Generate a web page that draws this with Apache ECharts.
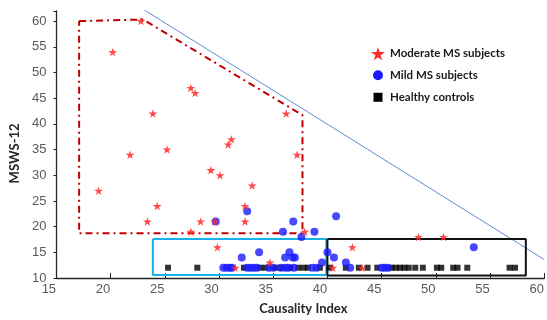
<!DOCTYPE html>
<html><head><meta charset="utf-8">
<script src="https://cdn.jsdelivr.net/npm/echarts@6/dist/echarts.min.js"></script>
<style>html,body{margin:0;padding:0;background:#fff}#c{width:547px;height:320px}</style>
</head><body><div id="c"></div>
<script>
// ---- data ----
const seriesNames = ['Moderate MS subjects', 'Mild MS subjects', 'Healthy controls'];
const moderateX = [22.8,20.2,27.4,27.8,23.9,36.2,25.2,21.8,31.15,30.85,37.2,29.25,30.1,18.9,33.06,24.3,32.4,23.4,28.3,29.6,32.4,27.4,37.9,29.85,42.3,48.4,50.7,34.7,31.5,40.5,43.2];
const moderateY = [60,54,47,46,42,42,35,34,37,36,34,31,30,27,28,24,24,21,21,21,21,19,19,16,16,18,18,13,12,12,12];
const mildX = [32.6,29.7,36.85,35.9,38.8,37.6,40.8,32.1,33.7,36.5,36.1,36.8,37.0,39.5,40.0,40.6,41.7,53.5,
  30.4,30.7,31.0,31.2,32.6,32.9,33.2,33.5,34.6,35.0,35.7,36.1,36.4,36.9,38.6,39.0,42.1,45.0,45.3,45.6];
const mildY = [23,21,21,19,19,18,22,14,15,15,14,14,14,13,15,14,13,16,
  12,12,12,12,12,12,12,12,12,12,12,12,12,12,12,12,12,12,12,12];
const healthyX = [25.3,28.0,32.3,33.8,34.3,35.2,35.8,36.6,37.3,37.8,38.2,39.3,40.2,41.7,42.9,43.7,44.6,
  45.9,46.3,46.7,47.1,47.5,48.1,48.8,50.1,50.5,51.6,52.0,52.9,56.8,57.3];
const healthyY = healthyX.map(() => 12);
// outlines drawn on the chart (data coordinates)
const redOutlineX = [17.1, 23.0, 37.7, 37.7, 17.1, 17.1];
const redOutlineY = [60, 60.3, 41.7, 18.7, 18.7, 60];
const cyanBoxX = [23.9, 39.9, 39.9, 23.9, 23.9];
const cyanBoxY = [17.6, 17.6, 10.6, 10.6, 17.6];
const blackBoxX = [40.0, 58.3, 58.3, 40.0, 40.0];
const blackBoxY = [17.6, 17.6, 10.5, 10.5, 17.6];
const trendX = [23, 60];
const trendY = [62.3, 13.6];
const xTickLabels = [15,20,25,30,35,40,45,50,55,60];
const yTickLabels = [10,15,20,25,30,35,40,45,50,55,60];

const zip = (a, b) => a.map((v, i) => [v, b[i]]);
const STAR = 'path://M50,0 L61,35 L98,35 L68,57 L79,91 L50,70 L21,91 L32,57 L2,35 L39,35 Z';
const CIRCLE_L = 'path://M0,0 M14,14 M2,7 A5,5 0 1,0 12,7 A5,5 0 1,0 2,7 Z';
const SQUARE_L = 'path://M0,0 M14,14 M2.5,2.5 L11.5,2.5 L11.5,11.5 L2.5,11.5 Z';

const chart = echarts.init(document.getElementById('c'), null, {renderer: 'canvas'});
chart.setOption({
  animation: false,
  backgroundColor: '#ffffff',
  grid: {left: 54, top: 10.8, width: 495, height: 272.5},
  legend: {
    orient: 'vertical', left: 366, top: 42, itemGap: 8, itemWidth: 14, itemHeight: 14,
    textStyle: {fontFamily: 'Lato', fontWeight: 'bold', fontSize: 11.5, color: '#1a1a1a'},
    itemStyle: {opacity: 1},
    data: [
      {name: seriesNames[0], icon: STAR},
      {name: seriesNames[1], icon: CIRCLE_L},
      {name: seriesNames[2], icon: SQUARE_L}
    ]
  },
  xAxis: {
    type: 'value', min: 15, max: 60, interval: 5,
    name: 'Causality Index', nameLocation: 'middle', nameGap: 24,
    nameTextStyle: {fontFamily: 'Lato', fontWeight: 'bold', fontSize: 13, color: '#262626', padding: [0, 0, 0, 6]},
    axisLine: {lineStyle: {color: '#262626', width: 1.3}},
    axisTick: {inside: true, length: 5, lineStyle: {color: '#262626'}},
    axisLabel: {fontFamily: 'Liberation Sans', fontSize: 13, color: '#595959', margin: 5, padding: [0, 15, 0, 0],
      formatter: v => xTickLabels.includes(v) ? String(v) : ''},
    splitLine: {show: false}
  },
  yAxis: {
    type: 'value', min: 10, max: 62, interval: 5,
    name: 'MSWS-12', nameLocation: 'middle', nameGap: 31,
    nameTextStyle: {fontFamily: 'Lato', fontWeight: 'bold', fontSize: 13, color: '#262626', padding: [0, 18, 0, 0]},
    axisLine: {lineStyle: {color: '#262626', width: 1.3}},
    axisTick: {length: 3, lineStyle: {color: '#262626'}},
    axisLabel: {fontFamily: 'Liberation Sans', fontSize: 13, color: '#595959', margin: 10,
      formatter: v => yTickLabels.includes(v) ? String(v) : ''},
    splitLine: {show: false}
  },
  series: [
    {type: 'line', data: zip(trendX, trendY), showSymbol: false, silent: true, z: 1,
      lineStyle: {color: '#5b8ed0', width: 1}},
    {type: 'line', data: zip(redOutlineX, redOutlineY), showSymbol: false, silent: true, z: 1,
      lineStyle: {color: '#c00000', width: 2, type: [7, 4, 2, 4]}},
    {type: 'line', data: zip(cyanBoxX, cyanBoxY), showSymbol: false, silent: true, z: 1,
      lineStyle: {color: '#18b0ea', width: 2}},
    {type: 'line', data: zip(blackBoxX, blackBoxY), showSymbol: false, silent: true, z: 1,
      lineStyle: {color: '#111111', width: 2}},
    {name: seriesNames[2], type: 'scatter', data: zip(healthyX, healthyY), symbol: 'rect', symbolSize: 6, z: 2,
      itemStyle: {color: '#000000'}},
    {name: seriesNames[1], type: 'scatter', data: zip(mildX, mildY), symbol: 'circle', symbolSize: 8, z: 3,
      itemStyle: {color: '#1a1aff', opacity: 0.8}},
    {name: seriesNames[0], type: 'scatter', data: zip(moderateX, moderateY), symbol: STAR, symbolKeepAspect: true, symbolSize: 9, z: 4,
      itemStyle: {color: '#ff2a2a', opacity: 0.85}}
  ]
});
</script></body></html>
